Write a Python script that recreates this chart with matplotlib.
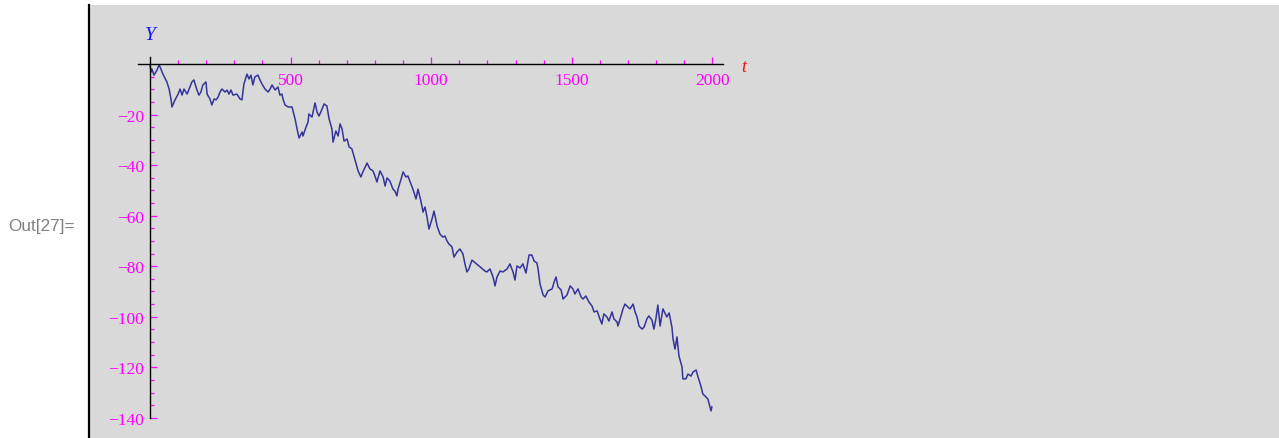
import matplotlib
matplotlib.use("Agg")
import matplotlib.pyplot as plt
from matplotlib.lines import Line2D
import numpy as np

# ---- data (t, Y) ----
t_part1 = [0, 4, 7, 14, 25, 32, 36, 46, 60, 68, 75, 78, 89, 100, 107, 114, 121, 132, 139, 149,
           156, 167, 174, 181, 188, 199, 203, 213, 220, 228, 235, 242, 249, 256, 267, 274, 281,
           288, 295, 309, 320, 327, 334, 345, 352, 359, 366, 373, 384, 391, 398, 409, 420, 427,
           434, 445, 455, 462, 469, 473, 480, 491, 505]
y_part1 = [-0.4, -3.2, -2.0, -4.4, -2.4, -0.4, -1.2, -4.0, -7.1, -9.9, -14.2, -17.0, -14.2, -11.9,
           -9.9, -12.3, -9.9, -11.9, -9.9, -7.1, -6.3, -10.3, -12.3, -11.1, -8.3, -7.1, -11.9,
           -13.8, -16.2, -13.8, -14.2, -13.1, -11.1, -9.9, -11.1, -10.3, -11.9, -10.3, -12.3,
           -11.9, -13.8, -14.2, -7.9, -4.0, -5.9, -4.4, -8.3, -5.1, -4.4, -6.3, -7.9, -9.9, -11.1,
           -9.9, -8.3, -10.3, -9.1, -12.3, -11.9, -13.8, -16.2, -17.0, -17.0]

t_part2 = [516, 523, 530, 541, 544, 555, 562, 565, 576, 587, 594, 601, 612, 619, 629, 637, 647,
           651, 661, 669, 676, 683, 690, 701, 708, 718, 725, 736, 740, 750, 757, 765, 772, 782,
           793, 800, 807, 818, 829, 836, 843, 853, 864, 871, 878, 882, 893, 900, 910, 917, 928,
           935, 946, 953, 964, 971, 978, 985, 992, 1003, 1010, 1021, 1031, 1042, 1049, 1056, 1063]
y_part2 = [-21.8, -25.7, -29.3, -26.9, -28.5, -24.9, -23.0, -19.8, -21.0, -15.4, -19.0, -20.6,
           -17.8, -15.8, -16.6, -21.8, -25.7, -30.9, -26.5, -28.5, -23.7, -25.7, -30.5, -29.7,
           -32.8, -33.6, -36.4, -40.8, -42.3, -44.7, -42.7, -40.8, -39.2, -41.5, -42.3, -44.3,
           -46.7, -42.3, -44.7, -48.3, -45.1, -46.3, -49.5, -50.3, -52.2, -49.5, -45.5, -42.7,
           -44.7, -44.3, -47.5, -49.5, -53.4, -49.5, -54.6, -58.6, -56.6, -60.5, -65.3, -61.3,
           -58.2, -64.1, -67.3, -68.5, -68.1, -70.0, -71.2]

t_part3 = [1074, 1081, 1092, 1102, 1113, 1120, 1127, 1134, 1145, 1191, 1198, 1209, 1220, 1227,
           1234, 1245, 1255, 1270, 1280, 1291, 1298, 1305, 1316, 1326, 1337, 1348, 1358, 1366,
           1376, 1380, 1387, 1398, 1405, 1415, 1430, 1437, 1444, 1451, 1462, 1469, 1483, 1494,
           1504, 1511, 1522, 1533, 1540, 1550, 1561, 1572, 1579, 1590, 1600, 1607, 1614, 1625,
           1632, 1643, 1650, 1661, 1664, 1675, 1682, 1689, 1696, 1707, 1718, 1725, 1732, 1739,
           1750, 1757, 1767, 1774, 1785, 1792, 1799, 1806, 1814, 1824, 1831, 1838, 1846, 1856,
           1860, 1867, 1874, 1881, 1892, 1895, 1906, 1913, 1924, 1931, 1942, 1949, 1959, 1966,
           1974, 1984, 1991, 1995, 1998]
y_part3 = [-72.4, -76.4, -74.4, -73.2, -75.2, -79.1, -82.3, -81.1, -77.6,
           -81.9, -82.3, -81.1, -84.3, -87.8, -84.3, -81.9, -82.3, -81.1, -79.1,
           -82.3, -85.5, -79.9, -80.7, -79.1, -82.7, -75.6, -75.6, -78.0, -78.7,
           -81.1, -87.1, -91.4, -92.2, -89.8, -89.0, -86.3, -84.3, -88.2, -89.4,
           -93.0, -91.4, -87.8, -89.0, -91.0, -89.0, -92.2, -93.0, -91.8, -94.2,
           -95.8, -98.1, -97.7, -100.9, -102.9, -98.9, -100.1, -101.7, -98.1, -100.9,
           -102.1, -103.7, -99.7, -96.9, -95.0, -95.8, -96.9, -95.0, -98.1, -100.1,
           -103.7, -104.9, -104.1, -100.9, -99.7, -101.3, -104.9, -100.9, -95.4, -103.7,
           -96.9, -98.5, -100.1, -98.5, -104.1, -108.8, -112.8, -108.0, -115.5, -119.9,
           -124.6, -124.6, -122.7, -123.5, -121.9, -121.1, -123.9, -127.4, -130.6, -131.4,
           -132.6, -135.7, -137.3, -135.7]

x_major = [500, 1000, 1500, 2000]
x_minor = [100, 200, 300, 400, 600, 700, 800, 900, 1100, 1200, 1300, 1400,
           1600, 1700, 1800, 1900]
y_major = [-20, -40, -60, -80, -100, -120, -140]
y_minor = [v for v in range(-135, 0, 5) if v % 20 != 0]

t = np.array(t_part1 + t_part2 + t_part3)
Y = np.array(y_part1 + y_part2 + y_part3)

# ---- figure ----
W, H = 1279, 439
fig = plt.figure(figsize=(W / 100, H / 100), dpi=100)
fig.patch.set_facecolor("white")

panel_left, panel_top = 89, 6
ax = fig.add_axes([panel_left / W, 0, (W - panel_left) / W, (H - panel_top) / H])
ax.set_facecolor("#d9d9d9")

# pixel calibration: t=0 at x=150, 0.2812 px/unit; Y=0 at y=65, 2.527 px/unit
sx, x0 = 0.2812, 150.0
sy, y0 = 2.527, 65.0
ax.set_xlim((panel_left - x0) / sx, (W - x0) / sx)
ax.set_ylim(-(H - y0) / sy, -(panel_top - y0) / sy)

ax.plot(t, Y, color="#34349a", lw=1.1, solid_joinstyle="round")

for s in ("top", "right"):
    ax.spines[s].set_visible(False)
ax.spines["left"].set_position(("data", 0))
ax.spines["bottom"].set_position(("data", 0))
ax.spines["bottom"].set_bounds((138 - x0) / sx, (723 - x0) / sx)
ax.spines["left"].set_bounds(-140, 2.8)
for s in ("left", "bottom"):
    ax.spines[s].set_color("black")
    ax.spines[s].set_linewidth(1.0)

ax.set_xticks(x_major)
ax.set_xticks(x_minor, minor=True)
ax.set_yticks(y_major)
ax.set_yticks(y_minor, minor=True)
ax.set_xticklabels([str(v) for v in x_major])
ax.set_yticklabels(["\u2212" + str(-v) for v in y_major])

ax.tick_params(which="both", direction="in", color="#ff00ff", width=0.9)
ax.tick_params(axis="x", which="major", length=5.2, pad=6)
ax.tick_params(axis="x", which="minor", length=3.0)
ax.tick_params(axis="y", which="major", length=5.2, pad=4.5)
ax.tick_params(axis="y", which="minor", length=2.8)
for lab in ax.get_xticklabels() + ax.get_yticklabels():
    lab.set_fontfamily("Liberation Serif")
    lab.set_fontsize(12.5)
    lab.set_color("#ff00ff")

ax.text(0, -(35 - y0) / sy, "Y", color="#1010ff", fontsize=14, style="italic",
        family="Liberation Serif", ha="center", va="center")
ax.text((744 - x0) / sx, -(67 - y0) / sy, "t", color="#ee1111", fontsize=13, style="italic",
        family="Liberation Serif", ha="center", va="center")

# left black bracket line of the cell
fig.add_artist(Line2D([88.5 / W, 88.5 / W], [0, (H - panel_top) / H],
                      transform=fig.transFigure, color="black", lw=1.6))

fig.text(8 / W, 1 - 226 / H, "Out[27]=", color="#808080", fontsize=12.3,
         family="Liberation Sans", ha="left", va="center")

fig.savefig("out.png", dpi=100)
